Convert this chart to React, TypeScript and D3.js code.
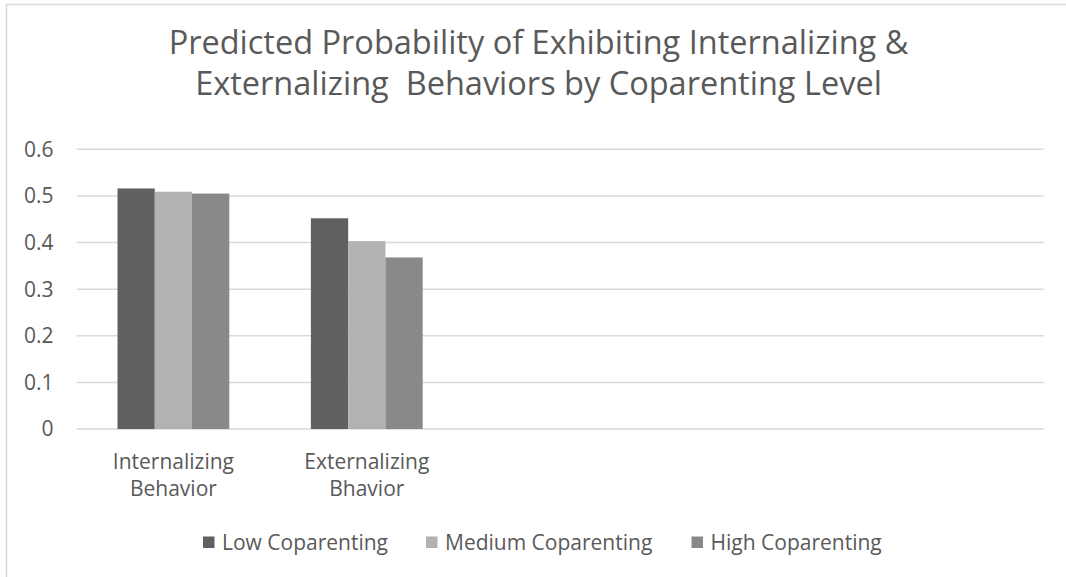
import React from "react";
import * as d3 from "d3";

const categories = ["Internalizing Behavior", "Externalizing Bhavior", "", "", ""];
const categoryLines = [["Internalizing", "Behavior"], ["Externalizing", "Bhavior"], [], [], []];
const seriesNames = ["Low Coparenting", "Medium Coparenting", "High Coparenting"];
const lowValues = [0.516, 0.452];
const mediumValues = [0.509, 0.403];
const highValues = [0.505, 0.368];
const yTicks = [0, 0.1, 0.2, 0.3, 0.4, 0.5, 0.6];
const titleLines = [
  "Predicted Probability of Exhibiting Internalizing &",
  "Externalizing  Behaviors by Coparenting Level",
];

const colors = ["#606060", "#b2b2b2", "#898989"];
const W = 1066;
const H = 577;
const FONT = "'Open Sans', sans-serif";
const TEXT = "#595959";

export default function App() {
  const series = [lowValues, mediumValues, highValues];
  const x0 = d3.scaleBand<number>().domain(d3.range(categories.length)).range([76.7, 1043.7]).paddingInner(0).paddingOuter(0);
  const bw = x0.bandwidth() / 5.19;
  const x1 = d3.scaleBand<number>().domain(d3.range(3)).range([0, bw * 3]);
  const y = d3.scaleLinear().domain([0, 0.6]).range([429, 149.3]);
  const legendX = [203, 426, 691.5];

  return (
    <svg width={W} height={H} style={{ position: "absolute", left: 0, top: 0, background: "#fff" }}>
      <rect x={0} y={0} width={W} height={H} fill="#fff" />
      <rect x={6.5} y={4.5} width={W + 20} height={H + 20} fill="none" stroke="#d9d9d9" strokeWidth={1.5} />
      {titleLines.map((t, i) => (
        <text key={i} x={538.5} y={54 + i * 41} textAnchor="middle" fontFamily={FONT} fontSize={32.5} fill={TEXT} style={{ whiteSpace: "pre" }}>
          {t}
        </text>
      ))}
      {yTicks.map((t) => (
        <g key={t}>
          <line x1={76.7} x2={1043.7} y1={y(t)} y2={y(t)} stroke="#d9d9d9" strokeWidth={1.5} />
          <text x={53.5} y={y(t)} dy="0.35em" textAnchor="end" fontFamily={FONT} fontSize={21} fill={TEXT}>
            {d3.format("")(t)}
          </text>
        </g>
      ))}
      {categories.map((c, ci) => {
        const gx = (x0(ci) as number) + (x0.bandwidth() - bw * 3) / 2;
        return (
          <g key={ci}>
            {series.map((vals, si) =>
              vals[ci] !== undefined ? (
                <rect key={si} x={gx + (x1(si) as number)} y={y(vals[ci])} width={x1.bandwidth()} height={y(0) - y(vals[ci])} fill={colors[si]} />
              ) : null
            )}
            {categoryLines[ci].map((l, li) => (
              <text key={li} x={(x0(ci) as number) + x0.bandwidth() / 2} y={468.5 + li * 27} textAnchor="middle" fontFamily={FONT} fontSize={21} fill={TEXT}>
                {l}
              </text>
            ))}
          </g>
        );
      })}
      {seriesNames.map((n, i) => (
        <g key={n}>
          <rect x={legendX[i]} y={536.5} width={11.5} height={11.5} fill={colors[i]} />
          <text x={legendX[i] + 19} y={549.5} fontFamily={FONT} fontSize={21} fill={TEXT}>
            {n}
          </text>
        </g>
      ))}
    </svg>
  );
}
